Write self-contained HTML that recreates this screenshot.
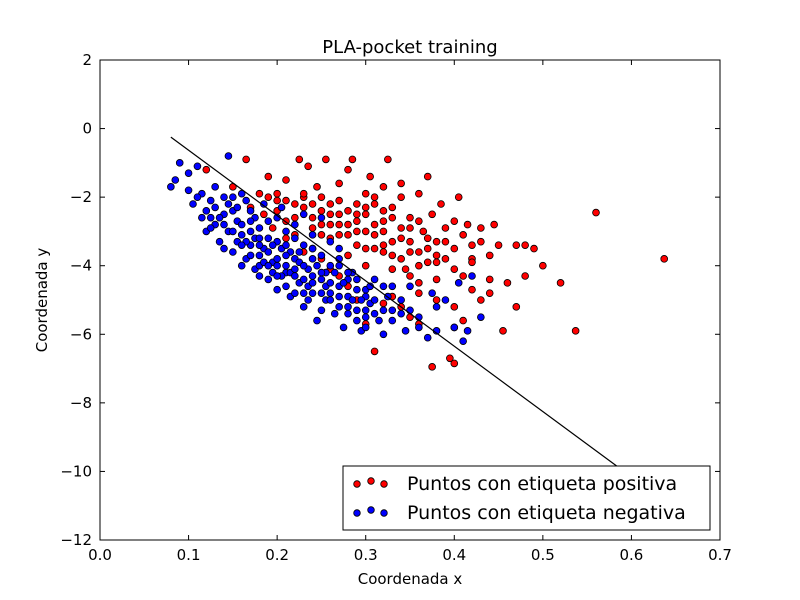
<!DOCTYPE html>
<html><head><meta charset="utf-8"><style>
body{margin:0;background:#fff}
svg{display:block;font-family:"DejaVu Sans","Liberation Sans",sans-serif}
</style></head><body>
<svg id="c" width="800" height="600" viewBox="0 0 800 600">
<rect width="800" height="600" fill="#fff"/>
<g id="pts"></g>
<g id="axes"></g>
</svg>
<script>
const xTicks=[0.0,0.1,0.2,0.3,0.4,0.5,0.6,0.7];
const yTicks=[2,0,-2,-4,-6,-8,-10,-12];
const lineX=[0.08,0.6];
const lineY=[-0.25,-10.16];
const redX=[0.12,0.165,0.19,0.2,0.21,0.225,0.235,0.245,0.255,0.26,0.27,0.28,0.285,0.29,0.3,0.305,0.31,0.32,0.325,0.33,0.34,0.35,0.36,0.365,0.37,0.375,0.38,0.385,0.39,0.4,0.41,0.415,0.43,0.44,0.45,0.47,0.48,0.49,0.5,0.48,0.46,0.44,0.42,0.41,0.4,0.39,0.38,0.37,0.36,0.35,0.345,0.34,0.33,0.32,0.31,0.3,0.29,0.28,0.27,0.26,0.25,0.24,0.23,0.22,0.21,0.2,0.19,0.18,0.17,0.15,0.637,0.56,0.537,0.52,0.47,0.455,0.44,0.43,0.4,0.41,0.4,0.395,0.375,0.36,0.35,0.34,0.33,0.32,0.31,0.3,0.29,0.28,0.27,0.26,0.25,0.24,0.23,0.21,0.195,0.185,0.32,0.35,0.37,0.39,0.42,0.36,0.33,0.3,0.28,0.29,0.31,0.34,0.27,0.25,0.4,0.38,0.42,0.445,0.405,0.43,
0.2,0.21,0.22,0.23,0.24,0.25,0.26,0.27,0.28,0.29,0.3,0.31,0.32,0.33,0.34,0.35,0.36,0.37,0.38,0.22,0.24,0.26,0.28,0.3,0.32,0.34,0.36,0.25,0.27,0.29,0.31,0.33,0.35,0.23,0.3,0.32,0.38,0.4,0.42,0.36];
const redY=[-1.2,-0.9,-1.4,-1.9,-1.5,-0.9,-1.1,-1.7,-0.9,-2.2,-1.6,-1.2,-0.9,-2.5,-1.9,-1.4,-2.8,-1.7,-0.9,-2.3,-2.0,-2.6,-1.9,-3.0,-1.4,-2.5,-3.3,-2.2,-2.9,-2.7,-3.1,-2.8,-2.9,-3.7,-3.4,-3.4,-3.4,-3.5,-4.0,-4.3,-4.5,-4.4,-3.8,-4.3,-4.1,-3.8,-4.4,-3.9,-4.5,-3.6,-4.1,-3.2,-3.7,-3.0,-3.5,-3.0,-3.4,-2.8,-3.1,-2.8,-2.4,-2.9,-2.3,-2.6,-2.1,-2.4,-2.0,-1.9,-2.3,-1.7,-3.8,-2.45,-5.9,-4.5,-5.2,-5.9,-4.8,-5.0,-5.8,-5.6,-6.85,-6.7,-6.95,-5.7,-5.5,-5.2,-4.9,-5.1,-6.5,-5.7,-5.0,-4.6,-4.3,-4.1,-3.8,-3.5,-3.6,-3.2,-2.9,-2.5,-2.4,-2.9,-3.5,-3.3,-3.4,-3.6,-4.1,-4.0,-3.7,-2.2,-2.0,-1.6,-2.5,-3.1,-5.2,-5.0,-4.7,-2.8,-2.0,-3.3,
-2.1,-2.7,-2.2,-2.0,-2.2,-2.0,-2.5,-2.1,-2.4,-2.7,-2.5,-2.2,-2.7,-2.6,-2.9,-3.3,-2.7,-3.2,-3.7,-3.1,-2.6,-3.2,-3.1,-3.5,-3.6,-3.8,-4.0,-2.8,-2.8,-3.0,-3.1,-3.3,-4.3,-1.9,-2.3,-3.4,-3.9,-3.5,-3.9,-4.8];
const blueX=[0.08,0.085,0.09,0.1,0.1,0.105,0.11,0.115,0.12,0.125,0.13,0.13,0.135,0.14,0.145,0.145,0.15,0.15,0.155,0.16,0.16,0.165,0.17,0.17,0.175,0.18,0.18,0.185,0.19,0.19,0.195,0.2,0.2,0.205,0.21,0.21,0.215,0.22,0.22,0.225,0.23,0.23,0.235,0.24,0.24,0.245,0.25,0.25,0.255,0.26,0.265,0.27,0.27,0.275,0.28,0.285,0.29,0.295,0.3,0.305,0.31,0.315,0.32,0.325,0.33,0.34,0.345,0.35,0.36,0.37,0.375,0.38,0.39,0.4,0.405,0.41,0.415,0.42,0.43,0.12,0.14,0.16,0.175,0.185,0.2,0.21,0.225,0.24,0.255,0.26,0.28,0.29,0.3,0.31,0.22,0.19,0.17,0.15,0.13,0.11,0.235,0.26,0.25,0.27,0.195,0.215,0.165,0.145,0.125,0.23,0.205,0.18,0.28,0.3,0.33,0.35,
0.115,0.125,0.135,0.14,0.15,0.155,0.16,0.165,0.17,0.175,0.18,0.185,0.19,0.195,0.2,0.205,0.21,0.215,0.22,0.225,0.23,0.235,0.24,0.245,0.25,0.255,0.26,0.265,0.27,0.275,0.28,0.285,0.29,0.295,0.3,0.305,0.31,0.32,0.33,0.34,
0.14,0.155,0.17,0.18,0.19,0.2,0.21,0.22,0.23,0.24,0.25,0.26,0.27,0.28,0.29,0.3,0.2,0.21,0.23,0.25,0.18,0.16,0.27,0.22,0.24,0.32,0.36,0.38];
const blueY=[-1.7,-1.5,-1.0,-1.3,-1.8,-2.2,-1.1,-1.9,-2.4,-2.1,-2.8,-1.7,-3.3,-2.5,-0.8,-3.0,-2.0,-3.6,-2.7,-3.1,-1.9,-3.8,-2.4,-3.4,-4.1,-2.9,-3.7,-2.2,-4.4,-3.2,-3.9,-2.6,-4.7,-3.5,-4.2,-3.0,-4.9,-3.8,-2.8,-4.5,-5.2,-3.4,-4.1,-4.8,-3.1,-5.6,-4.4,-3.7,-5.0,-4.0,-5.4,-4.6,-3.5,-5.8,-4.9,-4.2,-5.3,-5.9,-4.7,-5.1,-4.4,-5.6,-6.0,-4.9,-5.3,-5.0,-5.9,-4.6,-5.5,-6.1,-4.8,-5.2,-5.0,-5.8,-4.5,-6.2,-5.9,-4.3,-5.5,-3.0,-3.5,-4.0,-2.6,-3.5,-3.3,-4.0,-3.9,-4.3,-4.6,-3.3,-4.4,-4.7,-5.3,-5.0,-4.8,-2.7,-3.0,-2.4,-2.3,-2.0,-5.0,-5.0,-2.6,-4.0,-4.2,-3.6,-2.1,-2.2,-2.6,-2.5,-2.3,-4.0,-5.4,-4.9,-4.6,-5.3,
-2.6,-2.9,-2.6,-2.8,-3.0,-3.3,-2.8,-3.3,-3.7,-3.2,-3.2,-3.9,-3.6,-3.4,-4.0,-4.3,-3.7,-4.2,-4.3,-3.6,-4.0,-4.6,-4.5,-4.0,-4.8,-4.2,-4.5,-4.2,-4.9,-4.5,-4.2,-5.0,-4.4,-5.0,-5.5,-4.6,-5.4,-5.3,-5.6,-5.4,
-2.0,-2.3,-2.7,-3.4,-4.0,-3.8,-3.4,-4.1,-4.4,-3.8,-4.2,-4.8,-5.2,-5.2,-5.6,-5.8,-4.3,-4.6,-4.8,-5.3,-4.3,-3.4,-3.8,-3.2,-3.5,-4.6,-5.8,-5.9];

const L=100,R=720,T=60,B=540;
const sx=v=>L+(v-0)/0.7*(R-L);
const sy=v=>T+(2-v)/14*(B-T);
const NS='http://www.w3.org/2000/svg';
function mk(tag,attrs,parent){const e=document.createElementNS(NS,tag);for(const k in attrs)e.setAttribute(k,attrs[k]);parent.appendChild(e);return e;}
const pts=document.getElementById('pts'),axes=document.getElementById('axes');
for(let i=0;i<redX.length;i++){
  const c=mk('circle',{cx:sx(redX[i]),cy:sy(redY[i]),r:3.4,fill:'#f00',stroke:'#000','stroke-width':0.8},pts);
  
  
}
for(let i=0;i<blueX.length;i++){
  const c=mk('circle',{cx:sx(blueX[i]),cy:sy(blueY[i]),r:3.4,fill:'#00f',stroke:'#000','stroke-width':0.8},pts);
  
  
}
const ln=mk('line',{x1:sx(lineX[0]),y1:sy(lineY[0]),x2:sx(lineX[1]),y2:sy(lineY[1]),stroke:'#000','stroke-width':1.2},axes);


const fr=mk('rect',{x:L,y:T,width:R-L,height:B-T,fill:'none',stroke:'#000','stroke-width':1},axes);


xTicks.forEach(v=>{
  const x=sx(v);
  mk('line',{x1:x,y1:B,x2:x,y2:B-5,stroke:'#000'},axes);
  mk('line',{x1:x,y1:T,x2:x,y2:T+5,stroke:'#000'},axes);
  const t=mk('text',{x:x,y:B+20,'text-anchor':'middle','font-size':15},axes);t.textContent=v.toFixed(1);
  
  
});
yTicks.forEach(v=>{
  const y=sy(v);
  mk('line',{x1:L,y1:y,x2:L+5,y2:y,stroke:'#000'},axes);
  mk('line',{x1:R,y1:y,x2:R-5,y2:y,stroke:'#000'},axes);
  const t=mk('text',{x:L-8,y:y+5,'text-anchor':'end','font-size':15},axes);t.textContent=(v<0?'\u2212'+(-v):v);
  
  
});
let t=mk('text',{x:410,y:53,'text-anchor':'middle','font-size':18},axes);t.textContent='PLA-pocket training';


t=mk('text',{x:410,y:584,'text-anchor':'middle','font-size':15},axes);t.textContent='Coordenada x';


t=mk('text',{x:47,y:300,'text-anchor':'middle','font-size':15,transform:'rotate(-90 47 300)'},axes);t.textContent='Coordenada y';


const lg=mk('g',{},axes);


mk('rect',{x:343,y:466,width:367,height:64,fill:'#fff',stroke:'#000'},lg);
[['#f00','Puntos con etiqueta positiva',483],['#00f','Puntos con etiqueta negativa',512]].forEach(([c,s,y])=>{
  const g=mk('g',{},lg);
  
  
  [357,371,384].forEach((x,k)=>mk('circle',{cx:x,cy:y+(k==1?-2:1),r:3.3,fill:c,stroke:'#000','stroke-width':0.8},g));
  const tx=mk('text',{x:407,y:y+7,'font-size':19},g);tx.textContent=s;
});
</script>
</body></html>
